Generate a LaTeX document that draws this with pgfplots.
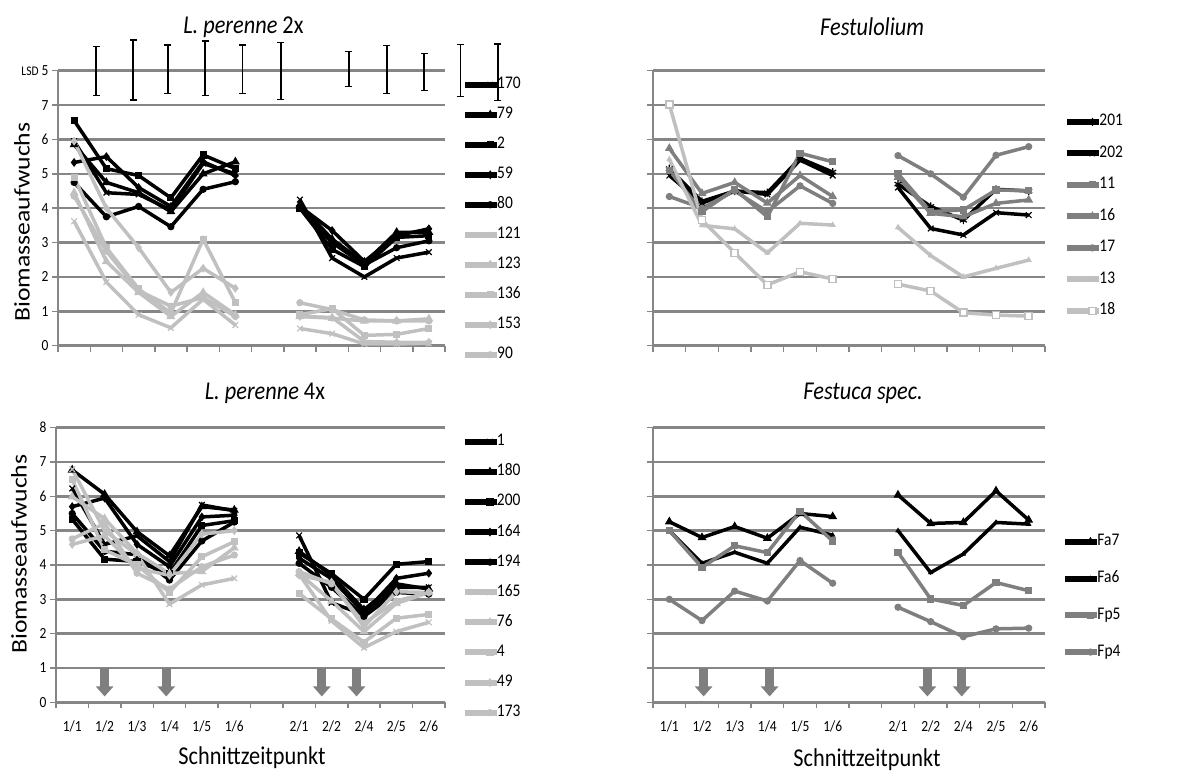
\documentclass[border=0pt]{standalone}
\usepackage{graphicx}
\usepackage{pgfplots}
\usepackage{pgfplotstable}
\pgfplotsset{compat=1.18}
\usepackage{fontspec}
\setmainfont{Carlito}
\usetikzlibrary{arrows.meta}
\definecolor{gridgray}{RGB}{134,134,134}
\definecolor{lgray}{RGB}{192,192,192}
\definecolor{dgray}{RGB}{127,127,127}
\newcommand{\vs}[1]{\scalebox{1}[1.15]{#1}}

\pgfplotstableread{
x s170 s79 s2 s59 s80 s121 s123 s136 s153 s90
0 5.95 5.85 6.55 5.33 4.75 3.62 4.45 4.90 5.95 4.35
1 4.45 4.75 5.15 5.50 3.75 1.85 2.45 2.85 4.00 2.75
2 4.40 4.45 4.95 4.60 4.05 0.90 1.55 1.65 2.85 1.60
3 3.95 3.90 4.30 4.05 3.46 0.52 0.85 0.95 1.55 1.15
4 5.30 5.00 5.55 5.35 4.55 1.35 1.55 3.10 2.25 1.40
5 5.00 5.35 5.15 4.95 4.77 0.60 0.90 1.25 1.67 0.85
6 nan nan nan nan nan nan nan nan nan nan
7 4.25 4.10 4.00 4.05 4.00 0.50 0.85 0.90 0.85 1.25
8 2.55 3.10 2.80 3.35 3.00 0.35 0.80 1.08 0.82 1.05
9 2.00 2.40 2.30 2.45 2.35 0.05 0.72 0.30 0.12 0.75
10 2.55 3.30 3.15 3.20 2.85 0.05 0.72 0.33 0.10 0.72
11 2.72 3.30 3.20 3.40 3.05 0.07 0.78 0.50 0.10 0.72
}\tblA

\pgfplotstableread{
x s201 s202 s11 s16 s17 s13 s18
0 5.15 4.95 5.10 5.74 4.34 5.42 7.02
1 4.20 4.15 3.90 4.43 4.00 3.50 3.65
2 4.50 4.50 4.55 4.75 4.50 3.40 2.70
3 4.45 4.40 3.75 4.15 3.90 2.70 1.77
4 5.45 5.40 5.60 4.95 4.65 3.56 2.15
5 5.05 4.95 5.35 4.34 4.14 3.51 1.94
6 nan nan nan nan nan nan nan
7 4.70 4.60 5.00 4.90 5.53 3.44 1.79
8 4.05 3.41 3.90 3.85 5.00 2.62 1.59
9 3.65 3.22 3.95 3.75 4.32 2.00 0.96
10 4.55 3.87 4.53 4.14 5.54 2.25 0.89
11 4.50 3.80 4.51 4.24 5.79 2.49 0.86
}\tblB

\pgfplotstableread{
x s1 s180 s200 s164 s194 s165 s76 s4 s49 s173
0 6.23 6.77 5.33 5.70 5.50 6.79 5.99 6.48 4.60 4.76
1 4.60 6.06 4.17 5.95 4.40 5.00 5.35 4.44 4.85 5.21
2 4.85 4.97 4.10 4.60 4.30 4.30 4.34 4.00 3.90 3.76
3 4.10 4.27 3.75 3.95 3.56 2.86 3.75 3.20 3.70 3.30
4 5.75 5.70 5.15 5.40 4.70 3.42 3.81 4.24 4.90 3.95
5 5.58 5.60 5.29 5.45 5.25 3.61 4.50 4.68 5.00 4.29
6 nan nan nan nan nan nan nan nan nan nan
7 4.86 4.40 4.35 4.20 4.05 3.73 3.75 3.17 3.70 3.81
8 2.90 3.70 3.75 3.60 3.35 2.37 2.95 2.43 3.50 3.45
9 2.55 2.70 3.00 2.60 2.50 1.59 2.06 1.75 2.20 2.30
10 3.35 3.45 4.02 3.61 3.20 2.06 2.88 2.45 3.22 2.95
11 3.35 3.30 4.10 3.76 3.15 2.33 3.20 2.56 3.20 3.20
}\tblC

\pgfplotstableread{
x Fa7 Fa6 Fp5 Fp4
0 5.26 5.00 5.00 3.00
1 4.80 4.05 3.93 2.38
2 5.12 4.37 4.56 3.24
3 4.78 4.05 4.36 2.95
4 5.50 5.10 5.57 4.13
5 5.41 4.87 4.70 3.47
6 nan nan nan nan
7 6.04 5.00 4.37 2.77
8 5.21 3.78 3.01 2.35
9 5.24 4.32 2.82 1.91
10 6.16 5.24 3.49 2.14
11 5.31 5.19 3.25 2.16
}\tblD

\tikzset{arr/.style={dgray, line width=9bp, -{Triangle[width=17bp,length=10bp]}}}

\pgfplotsset{
  panel/.style={
    scale only axis,
    xmin=-0.5, xmax=11.5, ymin=0, ymax=8,
    unbounded coords=jump,
    axis lines=left,
    axis line style={-, gridgray, line width=2.5bp},
    ymajorgrids,
    grid style={gridgray, line width=2.5bp},
    ytick={0,...,8},
    xtick={-0.5,0.5,...,11.5},
    xticklabels={},
    tick align=outside,
    major tick length=6bp,
    tick style={gridgray, line width=1.5bp},
    clip=false,
    /pgf/number format/assume math mode=true,
    tick label style={font=\fontsize{13.5}{15}\selectfont, black},
    every axis plot/.append style={line width=3.5bp},
    legend cell align=left,
    legend style={draw=none, fill=none, anchor=north west,
      font=\fontsize{15.5}{17}\selectfont, inner sep=0pt,
      nodes={inner sep=1bp, text height=10bp, text depth=2bp},
      /tikz/every odd column/.append style={column sep=-4bp}},
    legend image code/.code={
      \draw[##1, mark=none, line width=6bp] (0bp,0bp) -- (32bp,0bp);
      \draw[##1, line width=1.2bp] plot[only marks] coordinates {(25bp,0bp)};
    },
    every axis y label/.style={rotate=90, anchor=center,
      font=\fontsize{22.4}{26}\selectfont},
    every axis x label/.style={anchor=center,
      font=\fontsize{22.4}{26}\selectfont},
  },
  labx/.style={
    extra x ticks={0,1,2,3,4,5,7,8,9,10,11},
    extra x tick labels={\vs{1/1},\vs{1/2},\vs{1/3},\vs{1/4},\vs{1/5},\vs{1/6},\vs{2/1},\vs{2/2},\vs{2/4},\vs{2/5},\vs{2/6}},
    extra x tick style={tick style={draw=none},
      xticklabel style={yshift=-9bp}},
  },
  blk/.style={black, mark options={solid, fill=black, line width=1.2bp}},
  lgr/.style={lgray, mark options={solid, fill=lgray, line width=1.2bp}},
  dgr/.style={dgray, mark options={solid, fill=dgray, line width=1.2bp}},
  mx/.style={mark=x, mark size=4bp},
  mt/.style={mark=triangle*, mark size=4bp},
  ms/.style={mark=square*, mark size=3bp},
  md/.style={mark=diamond*, mark size=3.5bp},
  mc/.style={mark=*, mark size=3bp},
  lsd/.style={black, line width=1.3bp, mark=-, mark size=3.5bp,
    mark options={solid, line width=1.3bp}, forget plot},
}

\begin{document}
\begin{tikzpicture}[x=1bp,y=1bp]
\useasboundingbox (0,0) rectangle (1196,771);

% ---------- L. perenne 2x ----------
\begin{axis}[panel, at={(58bp,425.3bp)}, anchor=south west,
  width=387bp, height=275bp,
  yticklabels={\vs{0},\vs{1},\vs{2},\vs{3},\vs{4},\vs{5},\vs{6},\vs{7},{\vs{{\fontsize{11.5}{13}\selectfont LSD} 5}}},
  ylabel={\scalebox{1.15}[1]{Biomasseaufwuchs}},
  ylabel style={at={(axis description cs:-0.093,0.45)}},
  title={\vs{\textit{L. perenne} 2x}},
  every axis title/.style={at={(axis description cs:0.479,1.159)}, anchor=center,
    font=\fontsize{22.4}{26}\selectfont},
  legend style={at={(axis description cs:1.044,0.975)}, row sep=16bp},
]
\addplot[blk, mx] table[y=s170] {\tblA}; \addlegendentry{\vs{170}}
\addplot[blk, mt] table[y=s79] {\tblA}; \addlegendentry{\vs{79}}
\addplot[blk, ms] table[y=s2] {\tblA}; \addlegendentry{\vs{2}}
\addplot[blk, md] table[y=s59] {\tblA}; \addlegendentry{\vs{59}}
\addplot[blk, mc] table[y=s80] {\tblA}; \addlegendentry{\vs{80}}
\addplot[lgr, mx] table[y=s121] {\tblA}; \addlegendentry{\vs{121}}
\addplot[lgr, mt] table[y=s123] {\tblA}; \addlegendentry{\vs{123}}
\addplot[lgr, ms] table[y=s136] {\tblA}; \addlegendentry{\vs{136}}
\addplot[lgr, md] table[y=s153] {\tblA}; \addlegendentry{\vs{153}}
\addplot[lgr, mc] table[y=s90] {\tblA}; \addlegendentry{\vs{90}}
% LSD 5 bars
\addplot[lsd] coordinates {(0.68,7.27) (0.68,8.70)};
\addplot[lsd] coordinates {(1.83,7.15) (1.83,8.89)};
\addplot[lsd] coordinates {(2.91,7.34) (2.91,8.75)};
\addplot[lsd] coordinates {(4.06,7.27) (4.06,8.86)};
\addplot[lsd] coordinates {(5.21,7.34) (5.21,8.75)};
\addplot[lsd] coordinates {(6.41,7.17) (6.41,8.83)};
\addplot[lsd] coordinates {(8.52,7.53) (8.52,8.55)};
\addplot[lsd] coordinates {(9.70,7.34) (9.70,8.73)};
\addplot[lsd] coordinates {(10.85,7.42) (10.85,8.51)};
\addplot[lsd] coordinates {(11.99,7.24) (11.99,8.77)};
\addplot[lsd] coordinates {(13.14,7.13) (13.14,8.78)};
\end{axis}

% ---------- Festulolium ----------
\begin{axis}[panel, at={(653bp,425.3bp)}, anchor=south west,
  width=392bp, height=275bp,
  yticklabels={},
  title={\vs{\textit{Festulolium}}},
  every axis title/.style={at={(axis description cs:0.559,1.159)}, anchor=center,
    font=\fontsize{22.4}{26}\selectfont},
  legend style={at={(axis description cs:1.049,0.84)}, row sep=17.5bp},
]
\addplot[blk, mark=asterisk, mark size=4bp] table[y=s201] {\tblB}; \addlegendentry{\vs{201}}
\addplot[blk, mx] table[y=s202] {\tblB}; \addlegendentry{\vs{202}}
\addplot[dgr, ms] table[y=s11] {\tblB}; \addlegendentry{\vs{11}}
\addplot[dgr, mt] table[y=s16] {\tblB}; \addlegendentry{\vs{16}}
\addplot[dgr, mc] table[y=s17] {\tblB}; \addlegendentry{\vs{17}}
\addplot[lgr, mark=triangle*, mark size=2.5bp] table[y=s13] {\tblB}; \addlegendentry{\vs{13}}
\addplot[lgray, mark=square*, mark size=3.5bp, mark options={solid, fill=white, draw=lgray, line width=1.5bp}] table[y=s18] {\tblB}; \addlegendentry{\vs{18}}
\end{axis}

% ---------- L. perenne 4x ----------
\begin{axis}[panel, labx, at={(56bp,68.7bp)}, anchor=south west,
  width=389bp, height=274.6bp,
  yticklabels={\vs{0},\vs{1},\vs{2},\vs{3},\vs{4},\vs{5},\vs{6},\vs{7},\vs{8}},
  ylabel={\scalebox{1.15}[1]{Biomasseaufwuchs}},
  ylabel style={at={(axis description cs:-0.095,0.54)}},
  xlabel={\vs{Schnittzeitpunkt}},
  xlabel style={at={(axis description cs:0.504,-0.203)}},
  title={\vs{\textit{L. perenne} 4x}},
  every axis title/.style={at={(axis description cs:0.537,1.126)}, anchor=center,
    font=\fontsize{22.4}{26}\selectfont},
  legend style={at={(axis description cs:1.043,0.975)}, row sep=16.1bp},
]
\addplot[blk, mx] table[y=s1] {\tblC}; \addlegendentry{\vs{1}}
\addplot[blk, mt] table[y=s180] {\tblC}; \addlegendentry{\vs{180}}
\addplot[blk, ms] table[y=s200] {\tblC}; \addlegendentry{\vs{200}}
\addplot[blk, md] table[y=s164] {\tblC}; \addlegendentry{\vs{164}}
\addplot[blk, mc] table[y=s194] {\tblC}; \addlegendentry{\vs{194}}
\addplot[lgr, mx] table[y=s165] {\tblC}; \addlegendentry{\vs{165}}
\addplot[lgr, mt] table[y=s76] {\tblC}; \addlegendentry{\vs{76}}
\addplot[lgr, ms] table[y=s4] {\tblC}; \addlegendentry{\vs{4}}
\addplot[lgr, md] table[y=s49] {\tblC}; \addlegendentry{\vs{49}}
\addplot[lgr, mc] table[y=s173] {\tblC}; \addlegendentry{\vs{173}}
\draw[arr] (axis cs:1.0,1) -- (axis cs:1.0,0.17);
\draw[arr] (axis cs:2.9,1) -- (axis cs:2.9,0.17);
\draw[arr] (axis cs:7.7,1) -- (axis cs:7.7,0.17);
\draw[arr] (axis cs:8.77,1) -- (axis cs:8.77,0.17);
\end{axis}

% ---------- Festuca spec. ----------
\begin{axis}[panel, labx, at={(653bp,68.7bp)}, anchor=south west,
  width=392bp, height=274.6bp,
  yticklabels={},
  xlabel={\vs{Schnittzeitpunkt}},
  xlabel style={at={(axis description cs:0.546,-0.209)}},
  title={\vs{\textit{Festuca spec.}}},
  every axis title/.style={at={(axis description cs:0.536,1.126)}, anchor=center,
    font=\fontsize{22.4}{26}\selectfont},
  legend style={at={(axis description cs:1.044,0.61)}, row sep=22.7bp},
]
\addplot[blk, mt] table[y=Fa7] {\tblD}; \addlegendentry{\vs{Fa7}}
\addplot[blk, mark=triangle*, mark size=2bp] table[y=Fa6] {\tblD}; \addlegendentry{\vs{Fa6}}
\addplot[dgr, ms] table[y=Fp5] {\tblD}; \addlegendentry{\vs{Fp5}}
\addplot[dgr, mc] table[y=Fp4] {\tblD}; \addlegendentry{\vs{Fp4}}
\draw[arr] (axis cs:1.05,1) -- (axis cs:1.05,0.17);
\draw[arr] (axis cs:3.07,1) -- (axis cs:3.07,0.17);
\draw[arr] (axis cs:7.9,1) -- (axis cs:7.9,0.17);
\draw[arr] (axis cs:8.95,1) -- (axis cs:8.95,0.17);
\end{axis}
\end{tikzpicture}
\end{document}
